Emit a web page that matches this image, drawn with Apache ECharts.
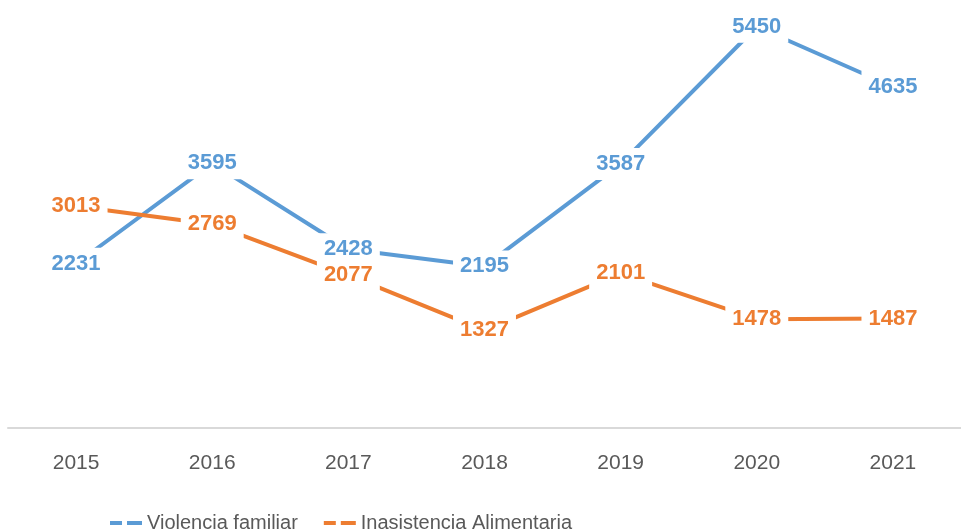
<!DOCTYPE html>
<html>
<head>
<meta charset="utf-8">
<script src="https://cdn.jsdelivr.net/npm/echarts@6/dist/echarts.min.js"></script>
<style>
  html, body { margin: 0; padding: 0; background: #fff; }
  #chart { width: 961px; height: 529px; }
</style>
</head>
<body>
<div id="chart"></div>
<script>
const years = ['2015', '2016', '2017', '2018', '2019', '2020', '2021']
const violencia = [2231, 3595, 2428, 2195, 3587, 5450, 4635]
const inasistencia = [3013, 2769, 2077, 1327, 2101, 1478, 1487]

let myChart = echarts.init(document.getElementById('chart'))

const labelStyle = function (color) {
  return {
    show: true,
    position: 'inside',
    color: color,
    fontFamily: 'Liberation Sans',
    fontWeight: 'bold',
    fontSize: 22,
    backgroundColor: '#fff',
    padding: [6, 7, 4, 7]
  }
}

const dashIcon = 'path://M0,0 L12,0 L12,4 L0,4 Z M17,0 L32,0 L32,4 L17,4 Z'

let option = {
  animation: false,
  grid: { left: 8, right: 0, top: 1, bottom: 101 },
  legend: {
    left: 105,
    top: 508,
    itemGap: 26,
    itemWidth: 32,
    itemHeight: 6,
    textStyle: { fontFamily: 'Liberation Sans', fontSize: 20, color: '#595959' },
    data: [
      { name: 'Violencia familiar', icon: dashIcon, itemStyle: { color: '#5b9bd5', opacity: 1 } },
      { name: 'Inasistencia Alimentaria', icon: dashIcon, itemStyle: { color: '#ed7d31', opacity: 1 } }
    ]
  },
  xAxis: {
    type: 'category',
    data: years,
    boundaryGap: true,
    axisLine: { lineStyle: { color: '#d9d9d9', width: 2 } },
    axisTick: { show: false },
    axisLabel: { margin: 25, fontFamily: 'Liberation Sans', fontSize: 21, color: '#595959' }
  },
  yAxis: {
    type: 'value',
    min: 0,
    max: 5800,
    show: false,
    splitLine: { show: false }
  },
  series: [
    {
      name: 'Violencia familiar',
      type: 'line',
      data: violencia,
      symbol: 'circle',
      symbolSize: 1,
      lineStyle: { color: '#5b9bd5', width: 4 },
      itemStyle: { color: '#5b9bd5' },
      label: labelStyle('#5b9bd5'),
      z: 2
    },
    {
      name: 'Inasistencia Alimentaria',
      type: 'line',
      data: inasistencia,
      symbol: 'circle',
      symbolSize: 1,
      lineStyle: { color: '#ed7d31', width: 4 },
      itemStyle: { color: '#ed7d31' },
      label: labelStyle('#ed7d31'),
      z: 3
    }
  ]
}
myChart.setOption(option)
</script>
</body>
</html>
